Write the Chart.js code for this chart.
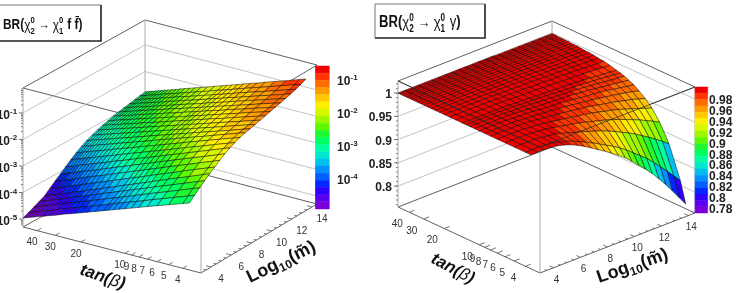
<!DOCTYPE html>
<html>
<head>
<meta charset="utf-8">
<title>Neutralino branching ratios</title>
<script src="https://cdn.jsdelivr.net/npm/chart.js@4/dist/chart.umd.js"></script>
<style>
  html, body { margin: 0; padding: 0; background: #fff; overflow: hidden; }
  canvas { position: absolute; top: 0; }
</style>
</head>
<body>
<canvas id="ffPlot" width="368" height="293" style="left:0"></canvas>
<canvas id="gammaPlot" width="369" height="293" style="left:368px"></canvas>
<script>
// Surface mesh nodes
const tanBeta = [3.6,4,5,6,7,8,9,10,11,12,13,14,16,18,20,22,24,26,28,30,32,34,36,38,40,42,44,46,48,50];
const logM = [3,3.5,4,4.5,5,5.5,6,6.5,7,7.5,8,8.5,9,9.5,10,10.5,11,11.5,12,12.5,13,13.5,14,14.5];

// log10 BR(chi2 -> chi1 f fbar), one row per logM, one column per tanBeta
const brFfLog = [
  [-2.77,-2.86,-3.04,-3.19,-3.32,-3.43,-3.53,-3.62,-3.70,-3.77,-3.84,-3.90,-4.01,-4.11,-4.20,-4.28,-4.35,-4.41,-4.48,-4.54,-4.59,-4.64,-4.69,-4.73,-4.77,-4.82,-4.85,-4.89,-4.92,-4.96],
  [-2.60,-2.69,-2.88,-3.04,-3.17,-3.29,-3.39,-3.48,-3.56,-3.64,-3.71,-3.77,-3.89,-3.99,-4.08,-4.16,-4.24,-4.30,-4.37,-4.43,-4.48,-4.54,-4.59,-4.63,-4.68,-4.72,-4.76,-4.80,-4.83,-4.87],
  [-2.43,-2.52,-2.72,-2.89,-3.02,-3.14,-3.25,-3.34,-3.43,-3.51,-3.58,-3.64,-3.76,-3.87,-3.96,-4.05,-4.12,-4.19,-4.26,-4.32,-4.38,-4.43,-4.49,-4.54,-4.58,-4.62,-4.66,-4.70,-4.74,-4.78],
  [-2.27,-2.37,-2.57,-2.74,-2.88,-3.00,-3.11,-3.21,-3.29,-3.37,-3.45,-3.51,-3.64,-3.74,-3.84,-3.93,-4.01,-4.08,-4.15,-4.21,-4.27,-4.33,-4.38,-4.43,-4.48,-4.52,-4.56,-4.60,-4.64,-4.68],
  [-2.12,-2.22,-2.43,-2.60,-2.74,-2.87,-2.98,-3.08,-3.17,-3.25,-3.33,-3.39,-3.52,-3.63,-3.73,-3.82,-3.90,-3.97,-4.05,-4.11,-4.17,-4.23,-4.28,-4.33,-4.38,-4.43,-4.47,-4.51,-4.55,-4.59],
  [-1.98,-2.08,-2.28,-2.45,-2.60,-2.72,-2.83,-2.93,-3.02,-3.10,-3.17,-3.24,-3.36,-3.47,-3.57,-3.66,-3.74,-3.81,-3.88,-3.95,-4.01,-4.06,-4.11,-4.17,-4.21,-4.26,-4.30,-4.34,-4.38,-4.42],
  [-1.84,-1.94,-2.14,-2.31,-2.45,-2.57,-2.68,-2.78,-2.86,-2.94,-3.02,-3.08,-3.21,-3.31,-3.41,-3.50,-3.58,-3.65,-3.72,-3.78,-3.84,-3.90,-3.95,-4.00,-4.05,-4.09,-4.13,-4.17,-4.21,-4.25],
  [-1.71,-1.81,-2.01,-2.17,-2.31,-2.43,-2.54,-2.63,-2.72,-2.80,-2.87,-2.94,-3.06,-3.17,-3.26,-3.35,-3.43,-3.50,-3.57,-3.63,-3.69,-3.74,-3.79,-3.84,-3.89,-3.93,-3.97,-4.01,-4.05,-4.09],
  [-1.60,-1.69,-1.89,-2.05,-2.19,-2.31,-2.41,-2.50,-2.59,-2.67,-2.74,-2.80,-2.92,-3.03,-3.12,-3.20,-3.28,-3.35,-3.42,-3.48,-3.53,-3.59,-3.64,-3.69,-3.73,-3.78,-3.82,-3.86,-3.89,-3.93],
  [-1.51,-1.60,-1.79,-1.95,-2.08,-2.19,-2.30,-2.39,-2.47,-2.55,-2.61,-2.68,-2.79,-2.89,-2.98,-3.06,-3.14,-3.21,-3.27,-3.33,-3.39,-3.44,-3.49,-3.53,-3.58,-3.62,-3.66,-3.70,-3.73,-3.77],
  [-1.43,-1.52,-1.70,-1.85,-1.98,-2.09,-2.19,-2.28,-2.36,-2.43,-2.50,-2.56,-2.67,-2.77,-2.86,-2.94,-3.01,-3.07,-3.14,-3.20,-3.25,-3.30,-3.35,-3.39,-3.43,-3.48,-3.51,-3.55,-3.58,-3.62],
  [-1.37,-1.45,-1.63,-1.78,-1.91,-2.01,-2.11,-2.19,-2.27,-2.34,-2.40,-2.46,-2.57,-2.67,-2.75,-2.83,-2.90,-2.96,-3.02,-3.08,-3.13,-3.18,-3.22,-3.27,-3.31,-3.35,-3.39,-3.42,-3.46,-3.49],
  [-1.33,-1.41,-1.59,-1.73,-1.85,-1.95,-2.04,-2.13,-2.20,-2.27,-2.33,-2.39,-2.49,-2.58,-2.67,-2.74,-2.81,-2.87,-2.93,-2.98,-3.03,-3.08,-3.12,-3.17,-3.21,-3.24,-3.28,-3.31,-3.35,-3.38],
  [-1.28,-1.36,-1.53,-1.67,-1.79,-1.89,-1.98,-2.06,-2.13,-2.20,-2.26,-2.32,-2.42,-2.51,-2.59,-2.66,-2.73,-2.79,-2.85,-2.90,-2.95,-2.99,-3.04,-3.08,-3.12,-3.16,-3.19,-3.23,-3.26,-3.29],
  [-1.23,-1.31,-1.48,-1.61,-1.73,-1.83,-1.92,-2.00,-2.07,-2.14,-2.20,-2.25,-2.35,-2.44,-2.52,-2.59,-2.66,-2.72,-2.77,-2.83,-2.87,-2.92,-2.96,-3.00,-3.04,-3.08,-3.11,-3.15,-3.18,-3.21],
  [-1.18,-1.26,-1.42,-1.56,-1.68,-1.77,-1.86,-1.94,-2.01,-2.08,-2.14,-2.19,-2.29,-2.38,-2.46,-2.53,-2.59,-2.65,-2.71,-2.76,-2.81,-2.85,-2.89,-2.94,-2.97,-3.01,-3.04,-3.08,-3.11,-3.14],
  [-1.13,-1.21,-1.37,-1.51,-1.62,-1.72,-1.81,-1.89,-1.96,-2.02,-2.08,-2.14,-2.24,-2.32,-2.40,-2.47,-2.54,-2.59,-2.65,-2.70,-2.75,-2.79,-2.84,-2.88,-2.91,-2.95,-2.98,-3.02,-3.05,-3.08],
  [-1.08,-1.16,-1.32,-1.46,-1.57,-1.67,-1.76,-1.83,-1.90,-1.97,-2.03,-2.08,-2.18,-2.27,-2.34,-2.41,-2.48,-2.54,-2.59,-2.64,-2.69,-2.73,-2.78,-2.82,-2.86,-2.89,-2.92,-2.96,-2.99,-3.02],
  [-1.03,-1.11,-1.27,-1.41,-1.52,-1.62,-1.71,-1.78,-1.85,-1.92,-1.98,-2.03,-2.13,-2.22,-2.29,-2.36,-2.43,-2.49,-2.54,-2.59,-2.64,-2.68,-2.73,-2.77,-2.81,-2.84,-2.87,-2.91,-2.94,-2.97],
  [-.98,-1.06,-1.22,-1.36,-1.47,-1.57,-1.66,-1.74,-1.81,-1.87,-1.93,-1.99,-2.09,-2.17,-2.25,-2.32,-2.39,-2.44,-2.50,-2.55,-2.60,-2.64,-2.69,-2.73,-2.76,-2.80,-2.83,-2.87,-2.90,-2.93],
  [-.92,-1.00,-1.17,-1.30,-1.42,-1.52,-1.61,-1.68,-1.76,-1.82,-1.88,-1.94,-2.04,-2.13,-2.20,-2.28,-2.34,-2.40,-2.46,-2.51,-2.56,-2.60,-2.64,-2.69,-2.72,-2.76,-2.79,-2.83,-2.86,-2.89],
  [-.86,-.94,-1.11,-1.25,-1.36,-1.46,-1.55,-1.63,-1.71,-1.77,-1.83,-1.89,-1.99,-2.08,-2.16,-2.23,-2.29,-2.35,-2.41,-2.46,-2.51,-2.56,-2.60,-2.64,-2.68,-2.72,-2.75,-2.79,-2.82,-2.85],
  [-.79,-.87,-1.04,-1.18,-1.30,-1.40,-1.49,-1.57,-1.65,-1.72,-1.78,-1.83,-1.94,-2.03,-2.11,-2.18,-2.25,-2.31,-2.37,-2.42,-2.47,-2.51,-2.56,-2.60,-2.64,-2.68,-2.71,-2.75,-2.78,-2.81],
  [-.70,-.78,-.96,-1.10,-1.22,-1.33,-1.42,-1.50,-1.58,-1.65,-1.71,-1.77,-1.87,-1.97,-2.05,-2.12,-2.19,-2.25,-2.31,-2.37,-2.42,-2.47,-2.51,-2.55,-2.59,-2.63,-2.67,-2.70,-2.74,-2.77]
];

// BR(chi2 -> chi1 gamma), same layout
const brGamma = [
  [1,1,1,1,1,1,1,1,1,1,1,1,1,1,1,1,1,1,1,1,1,1,1,1,1,1,1,1,1,1],
  [1,1,1,1,1,1,1,1,1,1,1,1,1,1,1,1,1,1,1,1,1,1,1,1,1,1,1,1,1,1],
  [1,1,1,1,1,1,1,1,1,1,1,1,1,1,1,1,1,1,1,1,1,1,1,1,1,1,1,1,1,1],
  [.999,.999,1,1,1,1,1,1,1,1,1,1,1,1,1,1,1,1,1,1,1,1,1,1,1,1,1,1,1,1],
  [.997,.998,.998,.999,1,1,1,1,1,1,1,1,1,1,1,1,1,1,1,1,1,1,1,1,1,1,1,1,1,1],
  [.993,.994,.996,.997,.998,.999,.999,.999,1,1,1,1,1,1,1,1,1,1,1,1,1,1,1,1,1,1,1,1,1,1],
  [.988,.990,.994,.996,.997,.998,.998,.998,.999,.999,.999,1,1,1,1,1,1,1,1,1,1,1,1,1,1,1,1,1,1,1],
  [.981,.985,.990,.993,.995,.996,.997,.998,.998,.998,.999,.999,.999,.999,1,1,1,1,1,1,1,1,1,1,1,1,1,1,1,1],
  [.973,.978,.986,.990,.993,.995,.996,.997,.997,.998,.998,.998,.999,.999,.999,.999,1,1,1,1,1,1,1,1,1,1,1,1,1,1],
  [.964,.971,.981,.987,.990,.993,.994,.995,.996,.997,.997,.998,.998,.999,.999,.999,.999,.999,1,1,1,1,1,1,1,1,1,1,1,1],
  [.955,.964,.977,.984,.988,.991,.993,.994,.995,.996,.997,.997,.998,.998,.999,.999,.999,.999,.999,1,1,1,1,1,1,1,1,1,1,1],
  [.946,.956,.972,.981,.986,.989,.991,.993,.994,.995,.996,.996,.997,.998,.998,.999,.999,.999,.999,.999,1,1,1,1,1,1,1,1,1,1],
  [.936,.948,.967,.977,.983,.987,.990,.992,.993,.994,.995,.996,.997,.997,.998,.998,.999,.999,.999,.999,.999,.999,1,1,1,1,1,1,1,1],
  [.926,.940,.962,.973,.980,.985,.988,.990,.992,.993,.994,.995,.996,.997,.998,.998,.998,.999,.999,.999,.999,.999,.999,.999,1,1,1,1,1,1],
  [.915,.931,.956,.969,.978,.983,.986,.989,.991,.992,.993,.994,.996,.997,.997,.998,.998,.998,.999,.999,.999,.999,.999,.999,.999,1,1,1,1,1],
  [.902,.921,.949,.965,.974,.980,.984,.987,.990,.991,.992,.994,.995,.996,.997,.997,.998,.998,.998,.999,.999,.999,.999,.999,.999,.999,.999,.999,.999,.999],
  [.888,.909,.942,.960,.970,.977,.982,.985,.988,.990,.991,.993,.994,.996,.996,.997,.997,.998,.998,.998,.999,.999,.999,.999,.999,.999,.999,.999,.999,.999],
  [.874,.898,.935,.955,.967,.974,.980,.984,.987,.989,.990,.992,.994,.995,.996,.997,.997,.998,.998,.998,.998,.999,.999,.999,.999,.999,.999,.999,.999,.999],
  [.859,.886,.927,.949,.963,.971,.977,.982,.985,.987,.989,.991,.993,.994,.995,.996,.997,.997,.998,.998,.998,.998,.999,.999,.999,.999,.999,.999,.999,.999],
  [.842,.872,.918,.943,.958,.968,.975,.980,.983,.986,.988,.990,.992,.994,.995,.996,.996,.997,.997,.998,.998,.998,.998,.999,.999,.999,.999,.999,.999,.999],
  [.824,.857,.909,.937,.953,.964,.972,.977,.981,.984,.987,.988,.991,.993,.994,.995,.996,.997,.997,.997,.998,.998,.998,.998,.999,.999,.999,.999,.999,.999],
  [.805,.842,.899,.930,.948,.961,.969,.975,.979,.982,.985,.987,.990,.992,.994,.995,.996,.996,.997,.997,.998,.998,.998,.998,.998,.999,.999,.999,.999,.999],
  [.785,.826,.889,.923,.943,.956,.966,.972,.977,.981,.984,.986,.989,.991,.993,.994,.995,.996,.996,.997,.997,.998,.998,.998,.998,.998,.999,.999,.999,.999],
  [.765,.810,.878,.915,.938,.952,.962,.970,.975,.979,.982,.984,.988,.991,.992,.994,.995,.995,.996,.997,.997,.997,.998,.998,.998,.998,.998,.999,.999,.999]
];

// Axis ticks
const tanBetaTicks = [4,5,6,7,8,9,10,20,30,40];
const logMTicks = [4,6,8,10,12,14];
const ffZTicks = [-5,-4,-3,-2,-1];
const gammaZTicks = [.8,.85,.9,.95,1];
const gammaBarTicks = [.78,.8,.82,.84,.86,.88,.9,.92,.94,.96,.98];
const ffBarTicks = [-4,-3,-2,-1];

// Colour bands, lowest value first
const palette = ['#7a00d8','#5a00f0','#3000ff','#0028ff','#0060ff','#0090ff','#00c0f0','#00e8d0','#00ffa0','#00ff60',
  '#20f830','#60f800','#a0f800','#d8f800','#ffee00','#ffc800','#ff9c00','#ff6c00','#ff3400','#f00000'];

const sans = '"Liberation Sans", Arial, sans-serif';
const T_MAX = 50, T_MIN = 3, M_MIN = 3, M_MAX = 14.5;

const panels = {
  ff: {
    canvas: 'ffPlot', left: 0, right: 368,
    A: [23, 227], B: [201, 273], C: [317, 204], D: [145, 159], height: 139,
    zMin: -5.3, zMax: -.06, values: brFfLog,
    bar: { x0: 315.7, x1: 329.3, y0: 66, y1: 209, min: -4.88, max: -.55 }
  },
  gamma: {
    canvas: 'gammaPlot', left: 368, right: 737,
    A: [398, 207], B: [540, 273], C: [695, 213], D: [552, 147], height: 126,
    zMin: .755, zMax: 1.026, values: brGamma,
    bar: { x0: 695.3, x1: 707.7, y0: 87, y1: 213, min: .771, max: 1.002 }
  }
};

function project(p, t, m, z) {
  const u = Math.log(T_MAX / t) / Math.log(T_MAX / T_MIN);
  const v = (m - M_MIN) / (M_MAX - M_MIN);
  const x = (1 - v) * ((1 - u) * p.A[0] + u * p.B[0]) + v * ((1 - u) * p.D[0] + u * p.C[0]);
  const y = (1 - v) * ((1 - u) * p.A[1] + u * p.B[1]) + v * ((1 - u) * p.D[1] + u * p.C[1]);
  return { x, y: y - (z - p.zMin) / (p.zMax - p.zMin) * p.height };
}

function bandColor(p, z) {
  const i = Math.floor((z - p.bar.min) / (p.bar.max - p.bar.min) * palette.length);
  return palette[Math.max(0, Math.min(palette.length - 1, i))];
}

const GAP = { x: NaN, y: NaN };
function lift(pt, h) { return { x: pt[0], y: pt[1] - h }; }
function seg(list, a, b) { list.push(a, b, GAP); }

function lineSet(data, color, width, order) {
  return { data, borderColor: color, borderWidth: width, pointRadius: 0, fill: false, order };
}

function buildFrame(p) {
  const grid = [], edges = [], ticks = [];
  const zPos = z => (z - p.zMin) / (p.zMax - p.zMin) * p.height;

  // wall grid lines
  const major = p === panels.ff ? ffZTicks : gammaZTicks;
  major.forEach(z => {
    const h = zPos(z);
    seg(grid, lift(p.A, h), lift(p.D, h));
    seg(grid, lift(p.D, h), lift(p.C, h));
    seg(ticks, lift(p.A, h), { x: p.A[0] - 4, y: p.A[1] - h });
  });

  // minor ticks on the height axis
  if (p === panels.ff) {
    for (let d = -6; d < 0; d++) {
      for (let k = 2; k < 10; k++) {
        const z = d + Math.log10(k);
        if (z > p.zMin && z < p.zMax) seg(ticks, lift(p.A, zPos(z)), { x: p.A[0] - 2, y: p.A[1] - zPos(z) });
      }
    }
  } else {
    for (let z = .76; z < 1.03; z += .01) {
      seg(ticks, lift(p.A, zPos(z)), { x: p.A[0] - 2, y: p.A[1] - zPos(z) });
    }
  }

  // box
  const H = p.height;
  [[p.A, p.D], [p.D, p.C], [p.A, p.B], [p.B, p.C]].forEach(e => seg(edges, lift(e[0], 0), lift(e[1], 0)));
  [[p.A, p.D], [p.D, p.C], [p.A, p.B], [p.C, p.B]].forEach(e => seg(edges, lift(e[0], H), lift(e[1], H)));
  const verticals = [];
  [p.A, p.B, p.C, p.D].forEach(c => seg(verticals, lift(c, 0), lift(c, H)));

  // ticks along the two floor axes
  tanBetaTicks.forEach(t => {
    const a = project(p, t, M_MIN, p.zMin), b = project(p, t, M_MIN + .4, p.zMin);
    seg(ticks, a, b);
  });
  for (let m = 3.5; m <= 14.5; m += .5) {
    const a = project(p, T_MIN, m, p.zMin), b = project(p, m % 2 === 0 ? 3.25 : 3.13, m, p.zMin);
    seg(ticks, a, b);
  }

  return [
    lineSet(grid, '#b4b4b4', .8, 5e5),
    lineSet(verticals, '#a8a8a8', 1, 5e5),
    lineSet(edges, '#606060', 1, 5e5),
    lineSet(ticks, '#555', .8, 5e5)
  ];
}

function buildSurface(p) {
  const sets = [];
  // back corner first, the library paints higher order values earlier
  let order = 4e5;
  for (let j = logM.length - 2; j >= 0; j--) {
    for (let i = tanBeta.length - 2; i >= 0; i--) {
      const z = [p.values[j][i], p.values[j][i + 1], p.values[j + 1][i + 1], p.values[j + 1][i]];
      const c0 = project(p, tanBeta[i], logM[j], z[0]);
      const c1 = project(p, tanBeta[i + 1], logM[j], z[1]);
      const c2 = project(p, tanBeta[i + 1], logM[j + 1], z[2]);
      const c3 = project(p, tanBeta[i], logM[j + 1], z[3]);
      sets.push({
        data: [c0, c1, c2, c3, c0],
        backgroundColor: bandColor(p, (z[0] + z[1] + z[2] + z[3]) / 4),
        borderColor: 'rgba(0,0,0,.8)',
        borderWidth: .6,
        pointRadius: 0,
        fill: 'shape',
        order: order--
      });
    }
  }
  return sets;
}

function buildBar(p) {
  const b = p.bar, n = palette.length;
  return palette.map((color, i) => {
    const y0 = b.y1 - (b.y1 - b.y0) * i / n, y1 = b.y1 - (b.y1 - b.y0) * (i + 1) / n;
    return {
      data: [{ x: b.x0, y: y0 }, { x: b.x1, y: y0 }, { x: b.x1, y: y1 }, { x: b.x0, y: y1 }, { x: b.x0, y: y0 }],
      backgroundColor: color, borderColor: color, borderWidth: .5,
      pointRadius: 0, fill: 'shape', order: 1
    };
  });
}

// a run is { s, font, dy, adv } where adv:false keeps the pen in place (stacked indices)
function drawRuns(ctx, x, y, angle, runs, sx) {
  ctx.save();
  ctx.translate(x, y);
  ctx.rotate(angle * Math.PI / 180);
  ctx.scale(sx || 1, 1);
  ctx.textAlign = 'left';
  ctx.textBaseline = 'alphabetic';
  let pen = 0;
  runs.forEach(r => {
    ctx.font = r.font;
    ctx.fillText(r.s, pen, r.dy || 0);
    if (r.adv !== false) pen += ctx.measureText(r.s).width + (r.gap || 0);
  });
  ctx.restore();
}

function centered(ctx, s, x, y, font) {
  ctx.font = font;
  ctx.textAlign = 'center';
  ctx.textBaseline = 'middle';
  ctx.fillText(s, x, y);
}

function titleBox(ctx, x0, y0, x1, y1) {
  ctx.fillStyle = '#fff';
  ctx.fillRect(x0, y0, x1 - x0, y1 - y0);
  ctx.strokeStyle = '#777';
  ctx.lineWidth = 1;
  ctx.beginPath();
  ctx.moveTo(x0, y1);
  ctx.lineTo(x0, y0);
  ctx.lineTo(x1, y0);
  ctx.stroke();
  ctx.strokeStyle = '#222';
  ctx.lineWidth = 1.6;
  ctx.beginPath();
  ctx.moveTo(x1, y0);
  ctx.lineTo(x1, y1);
  ctx.lineTo(x0, y1);
  ctx.stroke();
  ctx.fillStyle = '#111';
}

function chiRuns(size, sub) {
  const small = `bold ${Math.round(size * .62)}px ${sans}`;
  return [
    { s: 'χ', font: `${size}px ${sans}`, dy: 1 },
    { s: '0', font: small, dy: -6, adv: false },
    { s: sub, font: small, dy: 5, gap: 1 }
  ];
}

const ffLabels = {
  id: 'ffLabels',
  afterDraw(chart) {
    const ctx = chart.ctx, p = panels.ff;
    titleBox(ctx, -2, 5, 101, 41);
    drawRuns(ctx, 3, 29, 0, [
      { s: 'BR(', font: `bold 14px ${sans}` },
      ...chiRuns(14, '2'),
      { s: ' → ', font: `13px ${sans}` },
      ...chiRuns(14, '1'),
      { s: ' f f\u0304)', font: `bold 14px ${sans}` }
    ], .85);

    ctx.fillStyle = '#222';
    ffZTicks.forEach(z => {
      const y = project(p, T_MAX, M_MIN, z).y;
      ctx.textAlign = 'right';
      ctx.textBaseline = 'alphabetic';
      ctx.font = `bold 12px ${sans}`;
      ctx.fillText('10', 10, y + 6);
      ctx.font = `bold 8px ${sans}`;
      ctx.textAlign = 'left';
      ctx.fillText(String(z), 10, y + 1);
    });
    tickLabels(ctx, p, -5, 12, 10, 12);
    ctx.fillStyle = '#111';
    drawRuns(ctx, 79, 274, 19, [
      { s: 'tan(', font: `italic bold 17px ${sans}` },
      { s: 'β', font: `italic 17px ${sans}` },
      { s: ')', font: `italic bold 17px ${sans}` }
    ]);
    drawRuns(ctx, 250, 283, -26, logRuns(18));

    ctx.fillStyle = '#222';
    ffBarTicks.forEach(z => {
      const b = p.bar, y = b.y1 - (z - b.min) / (b.max - b.min) * (b.y1 - b.y0);
      ctx.textAlign = 'left';
      ctx.textBaseline = 'alphabetic';
      ctx.font = `bold 12px ${sans}`;
      ctx.fillText('10', 337, y + 4);
      ctx.font = `bold 8px ${sans}`;
      ctx.fillText(String(z), 350.5, y - 1);
    });
  }
};

const gammaLabels = {
  id: 'gammaLabels',
  afterDraw(chart) {
    const ctx = chart.ctx, p = panels.gamma, dx = -p.left;
    titleBox(ctx, 375 + dx, 4, 485 + dx, 38);
    drawRuns(ctx, 379 + dx, 27, 0, [
      { s: 'BR(', font: `bold 16px ${sans}` },
      ...chiRuns(16, '2'),
      { s: ' → ', font: `15px ${sans}` },
      ...chiRuns(16, '1'),
      { s: ' γ', font: `16px ${sans}` },
      { s: ')', font: `bold 16px ${sans}` }
    ], .82);

    ctx.fillStyle = '#222';
    ctx.textAlign = 'right';
    ctx.textBaseline = 'alphabetic';
    ctx.font = `bold 12px ${sans}`;
    gammaZTicks.forEach(z => {
      ctx.fillText(String(z), 392 + dx, project(p, T_MAX, M_MIN, z).y + 5);
    });
    tickLabels(ctx, p, -12, 12, 3, 12, dx);
    ctx.fillStyle = '#111';
    drawRuns(ctx, 430 + dx, 262, 28, [
      { s: 'tan(', font: `italic bold 17px ${sans}` },
      { s: 'β', font: `italic 17px ${sans}` },
      { s: ')', font: `italic bold 17px ${sans}` }
    ]);
    drawRuns(ctx, 599 + dx, 283, -19, logRuns(18));

    ctx.fillStyle = '#222';
    ctx.textAlign = 'left';
    ctx.textBaseline = 'alphabetic';
    ctx.font = `bold 12px ${sans}`;
    gammaBarTicks.forEach(z => {
      const b = p.bar, y = b.y1 - (z - b.min) / (b.max - b.min) * (b.y1 - b.y0);
      ctx.fillText(String(z), 709 + dx, y + 5);
    });
  }
};

function logRuns(size) {
  const font = `bold ${size}px ${sans}`;
  return [
    { s: 'Log', font },
    { s: '10', font: `bold ${Math.round(size * .68)}px ${sans}`, dy: 4 },
    { s: '(m\u0303)', font }
  ];
}

function tickLabels(ctx, p, tx, ty, mx, my, dx) {
  dx = dx || 0;
  ctx.fillStyle = '#333';
  tanBetaTicks.forEach(t => {
    const q = project(p, t, M_MIN, p.zMin);
    centered(ctx, String(t), q.x + tx + dx, q.y + ty, `10px ${sans}`);
  });
  logMTicks.forEach(m => {
    const q = project(p, T_MIN, m, p.zMin);
    centered(ctx, String(m), q.x + mx + dx, q.y + my, `10px ${sans}`);
  });
}

function makeChart(p, labels, overlay) {
  const datasets = [...buildFrame(p), ...buildSurface(p), ...buildBar(p)];
  if (overlay) datasets.push(overlay);
  new Chart(document.getElementById(p.canvas), {
    type: 'line',
    data: { datasets },
    plugins: [labels],
    options: {
      responsive: false,
      animation: false,
      events: [],
      parsing: { xAxisKey: 'x', yAxisKey: 'y' },
      layout: { padding: 0 },
      plugins: { legend: { display: false }, tooltip: { enabled: false }, title: { display: false } },
      scales: {
        x: { type: 'linear', display: false, min: p.left, max: p.right },
        y: { type: 'linear', display: false, reverse: true, min: 0, max: 293 }
      }
    }
  });
}

makeChart(panels.ff, ffLabels);

// on the gamma panel the front top edges of the box pass in front of the surface
const g = panels.gamma, frontTop = [];
seg(frontTop, lift(g.A, g.height), lift(g.B, g.height));
seg(frontTop, lift(g.C, g.height), lift(g.B, g.height));
makeChart(g, gammaLabels, lineSet(frontTop, 'rgba(50,50,50,.75)', 1, 0));
</script>
</body>
</html>
